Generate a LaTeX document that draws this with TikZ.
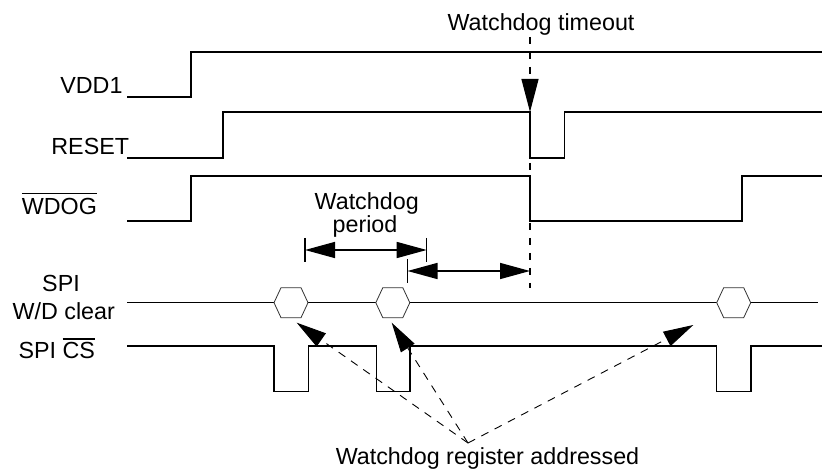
\documentclass[tikz,border=0pt]{standalone}
\usepackage{fontspec}
\setmainfont{Liberation Sans}
\usetikzlibrary{arrows.meta}
\newcommand\myovl[2]{\leavevmode\setbox0\hbox{#2}\rlap{\raisebox{\dimexpr\ht0+#1\relax}{\rule{\wd0}{1.2pt}}}\box0}
\tikzset{
  sig/.style={line width=1.5pt, line join=miter},
  tick/.style={line width=1.5pt},
  dimarrow/.style={line width=1.5pt, {Triangle[length=30pt,width=16pt]}-{Triangle[length=30pt,width=16pt]}},
  dashline/.style={line width=1.2pt, dash pattern=on 7pt off 8pt},
  ptr/.style={line width=0.9pt, dash pattern=on 8pt off 7pt, -{Triangle[length=30pt,width=16pt]}},
  hexbox/.style={line width=0.8pt, draw=black!80, fill=white},
  lbl/.style={inner sep=0pt, font=\fontsize{23.3pt}{28pt}\selectfont},
}
\begin{document}
\begin{tikzpicture}[x=1pt,y=-1pt]
\useasboundingbox (0,0) rectangle (822,470);
% labels
\node[lbl, anchor=base] (timeout) at (541,31) {Watchdog timeout};
\node[lbl, anchor=base east] (vdd) at (122.7,93.3) {VDD1};
\node[lbl, anchor=base east] (reset) at (129.3,154.3) {RESET};
\node[lbl, anchor=base west] (wdog) at (21.7,215) {\myovl{4.5pt}{WDOG}};
\node[lbl, anchor=base] (spi) at (61,291.7) {SPI};
\node[lbl, anchor=base] (wdclear) at (63.8,319.3) {W/D clear};
\node[lbl, anchor=base west] (cs) at (18.3,358.3) {SPI \myovl{2.5pt}{CS}};
\node[lbl, anchor=base] (period1) at (366.7,210) {Watchdog};
\node[lbl, anchor=base] (period2) at (365,232.7) {period};
\node[lbl, anchor=base] (addr) at (487.5,464.5) {Watchdog register addressed};
% signals
\draw[sig] (127,97) -- (191,97) -- (191,52) -- (822,52);
\draw[sig] (127,158) -- (223,158) -- (223,112) -- (530,112) -- (530,158) -- (564.7,158) -- (564.7,112) -- (822,112);
\draw[sig] (127,221) -- (191,221) -- (191,176) -- (530,176) -- (530,221) -- (742,221) -- (742,176) -- (822,176);
\draw[sig] (127,302.7) -- (818,302.7);
\draw[sig] (127,346) -- (274,346) -- (274,391.7) -- (308.3,391.7) -- (308.3,346) -- (376.7,346) -- (376.7,391.7) -- (410,391.7) -- (410,346) -- (716.7,346) -- (716.7,391.7) -- (751,391.7) -- (751,346) -- (822,346);
% hexagons
\foreach \c in {291,392.8,733.7}{
  \draw[hexbox] ({\c-17},302.7) -- ({\c-10},287.7) -- ({\c+10},287.7) -- ({\c+17},302.7) -- ({\c+10},317.7) -- ({\c-10},317.7) -- cycle;
}
% watchdog timeout marker
\coordinate (tmtop) at (530,37);
\coordinate (tmtip) at (530,112);
\draw[dashline, -{Triangle[length=33pt,width=17pt]}] (tmtop) -- (tmtip);
\coordinate (tmlow1) at (530,163);
\coordinate (tmlow2) at (530,288);
\draw[dashline] (tmlow1) -- (tmlow2);
% watchdog period dimension
\coordinate (pA) at (305,250);
\coordinate (pB) at (426.7,250);
\draw[tick] (305,238) -- (305,262);
\draw[tick] (426.7,238) -- (426.7,262);
\draw[dimarrow] (pA) -- (pB);
\coordinate (qA) at (407.5,271);
\coordinate (qB) at (530,271);
\draw[tick] (407.5,259) -- (407.5,283);
\draw[dimarrow] (qA) -- (qB);
% register addressed pointers
\coordinate (conv) at (468,443);
\coordinate (tipa) at (296.7,322.7);
\coordinate (tipb) at (391.7,322.7);
\coordinate (tipc) at (693.3,325);
\draw[ptr] (conv) -- (tipa);
\draw[ptr] (conv) -- (tipb);
\draw[ptr] (conv) -- (tipc);
\end{tikzpicture}
\end{document}
